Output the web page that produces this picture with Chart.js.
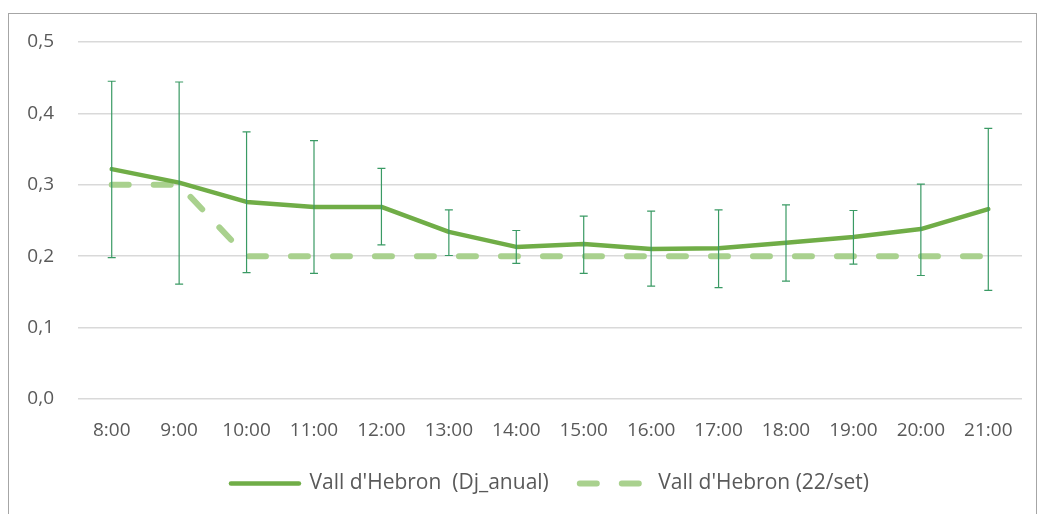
<!DOCTYPE html>
<html>
<head>
<meta charset="utf-8">
<script src="https://cdn.jsdelivr.net/npm/chart.js@4/dist/chart.umd.min.js"></script>
<style>
  html, body { margin: 0; padding: 0; background: #ffffff; overflow: hidden; }
  #marc { position: absolute; left: 8px; top: 13px; width: 1027px; height: 520px; border: 1px solid #a6a6a6; }
  #grafic { position: absolute; left: 0; top: 0; }
</style>
</head>
<body>
<div id="marc"></div>
<canvas id="grafic" width="1037" height="514"></canvas>
<script>
// Dades llegides del gràfic
const hores = ['8:00', '9:00', '10:00', '11:00', '12:00', '13:00', '14:00', '15:00', '16:00', '17:00', '18:00', '19:00', '20:00', '21:00'];
const djAnual = [0.322, 0.303, 0.276, 0.269, 0.269, 0.234, 0.213, 0.217, 0.210, 0.211, 0.219, 0.227, 0.238, 0.266];
const errAlt = [0.445, 0.444, 0.374, 0.362, 0.323, 0.265, 0.236, 0.256, 0.263, 0.265, 0.272, 0.264, 0.301, 0.379];
const errBaix = [0.198, 0.161, 0.177, 0.176, 0.216, 0.201, 0.190, 0.176, 0.158, 0.156, 0.165, 0.189, 0.173, 0.152];
const dia22set = [0.3, 0.3, 0.2, 0.2, 0.2, 0.2, 0.2, 0.2, 0.2, 0.2, 0.2, 0.2, 0.2, 0.2];
const nomSerie1 = "Vall d'Hebron  (Dj_anual)";
const nomSerie2 = "Vall d'Hebron (22/set)";

Chart.defaults.font.family = "'Open Sans', sans-serif";
Chart.defaults.color = '#595959';

// Barres d'error de la sèrie anual
const barresError = {
    id: 'barresError',
    afterDatasetsDraw(chart) {
        const ctx = chart.ctx;
        const meta = chart.getDatasetMeta(0);
        const y = chart.scales.y;
        const cap = 4;
        ctx.save();
        ctx.strokeStyle = '#3a9a64';
        ctx.lineWidth = 1.2;
        meta.data.forEach(function(pt, i) {
            const yAlt = y.getPixelForValue(errAlt[i]);
            const yBaix = y.getPixelForValue(errBaix[i]);
            ctx.beginPath();
            ctx.moveTo(pt.x, yAlt);
            ctx.lineTo(pt.x, yBaix);
            ctx.moveTo(pt.x - cap, yAlt);
            ctx.lineTo(pt.x + cap, yAlt);
            ctx.moveTo(pt.x - cap, yBaix);
            ctx.lineTo(pt.x + cap, yBaix);
            ctx.stroke();
        });
        ctx.restore();
    }
};

// Llegenda amb el traç discontinu de cada sèrie
function etiquetesLlegenda(chart) {
    const items = Chart.defaults.plugins.legend.labels.generateLabels(chart);
    items.forEach(function(it) {
        const ds = chart.data.datasets[it.datasetIndex];
        it.lineDash = ds.borderDash || [];
        it.lineWidth = ds.borderWidth;
        it.strokeStyle = ds.borderColor;
        it.lineCap = 'round';
    });
    return items;
}

new Chart(document.getElementById('grafic'), {
    type: 'line',
    data: {
        labels: hores,
        datasets: [{
            label: nomSerie1,
            data: djAnual,
            borderColor: '#70ad47',
            backgroundColor: '#70ad47',
            borderWidth: 4.5,
            borderCapStyle: 'round',
            borderJoinStyle: 'round',
            pointRadius: 0,
            tension: 0
        }, {
            label: nomSerie2,
            data: dia22set,
            borderColor: '#a9d18e',
            backgroundColor: '#a9d18e',
            borderWidth: 6,
            borderDash: [17, 25],
            borderCapStyle: 'round',
            pointRadius: 0,
            tension: 0
        }]
    },
    options: {
        responsive: false,
        devicePixelRatio: 1,
        animation: false,
        layout: { padding: { top: 42, right: 15, bottom: 12, left: 0 } },
        scales: {
            x: {
                offset: true,
                grid: { display: false, drawTicks: false },
                border: { display: false },
                ticks: { padding: 20, font: { size: 19 }, maxRotation: 0, autoSkip: false },
                afterFit(s) { s.height = 43; }
            },
            y: {
                min: 0,
                max: 0.5,
                grid: { color: '#d9d9d9', lineWidth: 1.5, drawTicks: false },
                border: { display: false },
                ticks: {
                    stepSize: 0.1,
                    padding: 24,
                    font: { size: 19 },
                    callback: v => v.toFixed(1).replace('.', ',')
                },
                afterFit(s) { s.width = 78; }
            }
        },
        plugins: {
            legend: {
                position: 'bottom',
                fullSize: false,
                maxHeight: 60,
                labels: {
                    usePointStyle: true,
                    pointStyle: 'line',
                    pointStyleWidth: 68,
                    padding: 31,
                    font: { size: 21 },
                    color: '#595959',
                    generateLabels: etiquetesLlegenda
                }
            },
            tooltip: { enabled: false }
        }
    },
    plugins: [barresError]
});
</script>
</body>
</html>
